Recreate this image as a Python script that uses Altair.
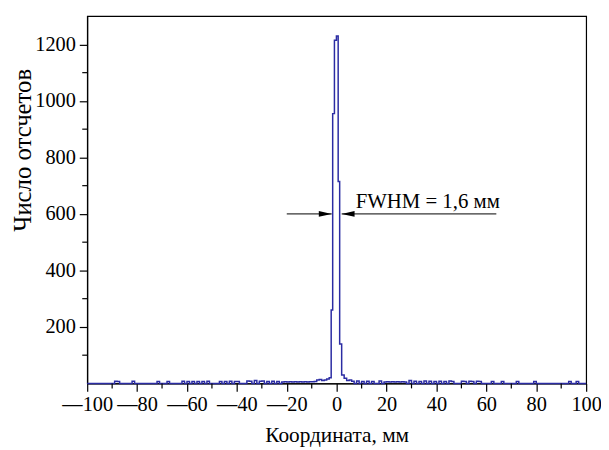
import altair as alt
import pandas as pd

# --- data ---
# baseline noise: 1 mm bins (bin start, counts)
noise_x = [-89, -88, -82, -72, -68, -62, -60, -58, -56, -54, -52, -47, -45, -43, -41, -40,
           -36, -35, -33, -31, -30, -28, -26, -24, -22, -21, -20, -19, -18, -17, -16, -15,
           -14, -13, -12, -11, -10, -9, -8, -7, -6, -5, -4,
           3, 4, 5, 6, 8, 10, 12, 14, 17, 19, 20, 21, 22, 23, 24, 25, 26, 27, 29, 31, 33,
           35, 37, 39, 41, 43, 45, 46, 50, 51, 53, 54, 56, 57, 62, 66, 72, 79, 93, 96]
noise_n = [8, 7, 8, 7, 7, 8, 7, 7, 7, 7, 8, 7, 7, 8, 7, 7,
           9, 8, 10, 8, 9, 7, 8, 7, 5, 6, 5, 6, 5, 6, 5, 6,
           5, 6, 5, 6, 6, 7, 12, 14, 10, 12, 16,
           18, 10, 12, 8, 9, 7, 8, 7, 9, 5, 6, 5, 6, 5, 6, 5, 6, 5, 10, 8, 7,
           9, 8, 7, 8, 7, 9, 7, 8, 7, 8, 7, 8, 7, 7, 7, 7, 7, 7, 7]
# central peak (bin start, counts)
peak_x = [-3.0, -2.2, -1.6, -0.9, -0.1, 0.6, 1.2, 2.0]
peak_n = [20, 260, 955, 1215, 1230, 715, 140, 30]

x_range = (-100, 100)
y_range = (0, 1300)
x_major = list(range(-100, 101, 20))
x_minor = list(range(-90, 91, 20))
y_major = list(range(200, 1201, 200))
y_minor = list(range(100, 1200, 200))

# build step series
noise = dict(zip(noise_x, noise_n))
pts = [(b, noise.get(b, 0)) for b in range(-100, 100) if not (-3 <= b < 3)]
pts += list(zip(peak_x, peak_n))
pts.append((100, 0))
pts.sort(key=lambda p: p[0])
spec = pd.DataFrame(pts, columns=["x", "n"])

FONT = "'Liberation Serif', 'Times New Roman', Times, 'DejaVu Serif', serif"
BLUE = "#2b2ca3"

xs = alt.Scale(domain=list(x_range), nice=False, zero=False)
ys = alt.Scale(domain=list(y_range), nice=False)

x_axis = alt.Axis(
    values=x_major, tickSize=8,
    labelExpr="datum.value < 0 ? '\u2014' + format(-datum.value, 'd') : format(datum.value, 'd')",
    labelFontSize=20.5, labelFont=FONT, labelColor="black", labelPadding=3,
    labelFlush=False, labelOverlap=False,
    domainColor="black", domainWidth=1.2, tickColor="black", tickWidth=1.2,
    grid=False, title="Координата, мм", titleFont=FONT, titleFontSize=21.5,
    titleFontWeight="normal", titleColor="black", titleY=59, titleBaseline="alphabetic",
)
y_axis = alt.Axis(
    values=y_major, tickSize=8,
    labelFontSize=20.5, labelFont=FONT, labelColor="black", labelPadding=4,
    labelOverlap=False, format="d",
    domainColor="black", domainWidth=1.2, tickColor="black", tickWidth=1.2,
    grid=False, title="Число отсчетов", titleFont=FONT, titleFontSize=25,
    titleFontWeight="normal", titleColor="black", titleAngle=270,
    titleX=-57, titleY=135, titleBaseline="alphabetic", titleAlign="center",
)

line = alt.Chart(spec).mark_line(interpolate="step-after", color=BLUE, strokeWidth=1.5).encode(
    x=alt.X("x:Q", scale=xs, axis=x_axis),
    y=alt.Y("n:Q", scale=ys, axis=y_axis),
)

# minor ticks (positions from the scales)
xminor = alt.Chart(pd.DataFrame({"v": x_minor})).mark_rule(color="black", strokeWidth=1.2).encode(
    x=alt.X("v:Q"), y=alt.value(371), y2=alt.value(376)
)
yminor = alt.Chart(pd.DataFrame({"v": y_minor})).mark_rule(color="black", strokeWidth=1.2).encode(
    y=alt.Y("v:Q"), x=alt.value(0), x2=alt.value(-5)
)

# FWHM annotation
fwhm_level = 600
arrow_df = pd.DataFrame({"x": [-20, 64], "x2": [-2, 2], "y": [fwhm_level, fwhm_level]})
rules = alt.Chart(arrow_df).mark_rule(color="black", strokeWidth=1).encode(
    x="x:Q", x2="x2:Q", y="y:Q"
)
head_r = alt.Chart(pd.DataFrame({"x": [-2], "y": [fwhm_level]})).mark_point(
    shape="M0,0 L-2,-0.45 L-2,0.45 Z", filled=True, size=169, color="black", opacity=1
).encode(x="x:Q", y="y:Q")
head_l = alt.Chart(pd.DataFrame({"x": [2], "y": [fwhm_level]})).mark_point(
    shape="M0,0 L2,-0.45 L2,0.45 Z", filled=True, size=169, color="black", opacity=1
).encode(x="x:Q", y="y:Q")
label = alt.Chart(pd.DataFrame({"x": [7.6], "y": [fwhm_level], "t": ["FWHM = 1,6 мм"]})).mark_text(
    align="left", baseline="alphabetic", dy=-6, fontSize=21, font=FONT, color="black"
).encode(x="x:Q", y="y:Q", text="t:N")

chart = alt.layer(line, xminor, yminor, rules, head_r, head_l, label).properties(
    width=504, height=371,
    autosize=alt.AutoSizeParams(type="none"),
    padding={"left": 80, "top": 6, "right": 15, "bottom": 65},
    background="white",
).configure_view(stroke="black", strokeWidth=1.2)

chart.save("out.html", embed_options={"renderer": "svg", "actions": False})
